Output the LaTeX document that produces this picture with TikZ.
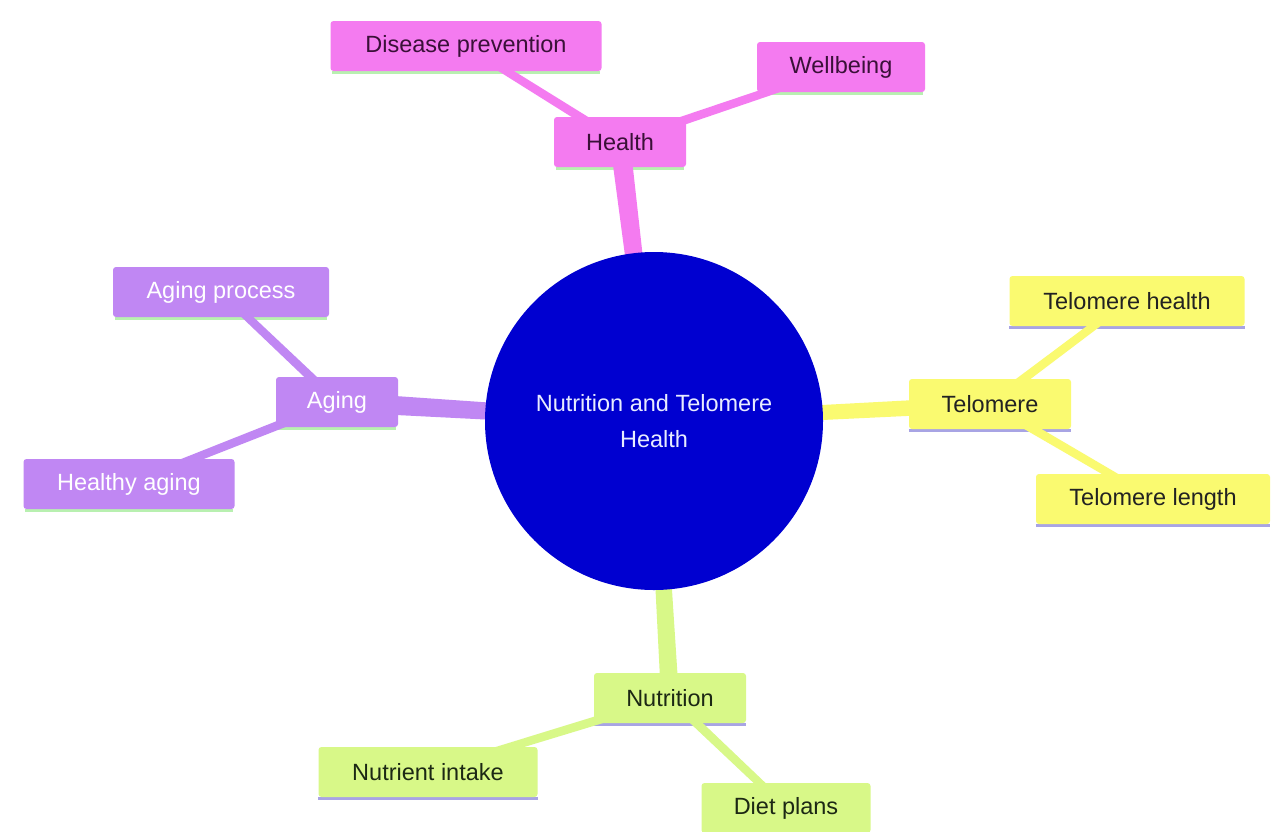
\documentclass[tikz,border=0pt]{standalone}
\usepackage{fontspec}
\setmainfont{Liberation Sans}
\usetikzlibrary{calc,backgrounds}
\definecolor{pinkc}{HTML}{F47BF0}
\definecolor{purpc}{HTML}{C087F3}
\definecolor{yelc}{HTML}{FAFA70}
\definecolor{grnc}{HTML}{D8F888}
\definecolor{bluec}{HTML}{0000D0}
\definecolor{ulg}{HTML}{B8F0B0}
\definecolor{ulp}{HTML}{A8A4E4}
\definecolor{pinktxt}{HTML}{3A1038}
\definecolor{darktxt}{HTML}{222222}
\definecolor{grntxt}{HTML}{1C2814}
\definecolor{hubtxt}{HTML}{E8ECFF}
\newcommand{\mmlink}[5]{%
  \fill[#1] ($(#2.center)!#4!90:(#3.center)$) -- ($(#3.center)!#5!-90:(#2.center)$)
   -- ($(#3.center)!#5!90:(#2.center)$) -- ($(#2.center)!#4!-90:(#3.center)$) -- cycle;}
\tikzset{
  box/.style={rectangle, rounded corners=3pt, inner sep=0pt, minimum height=50pt,
    font=\fontsize{23.5}{28}\selectfont},
  pinkbox/.style={box, fill=pinkc, text=pinktxt},
  purpbox/.style={box, fill=purpc, text=white},
  yelbox/.style={box, fill=yelc, text=darktxt},
  grnbox/.style={box, fill=grnc, text=grntxt},
  hub/.style={circle, fill=bluec, minimum size=338pt, inner sep=0pt, text=hubtxt,
    align=center, font=\fontsize{23.5}{36}\selectfont},
}
\begin{document}
\begin{tikzpicture}[x=1pt,y=-1pt]
\useasboundingbox (0,0) rectangle (1271,831);
\node[hub] (c) at (654,421) {Nutrition and Telomere\\Health};
% Health
\node[pinkbox, minimum width=132pt] (h) at (620,142) {Health};
\node[pinkbox, minimum width=271pt] (dp) at (466,46) {Disease prevention};
\node[pinkbox, minimum width=168pt] (wb) at (841,67) {Wellbeing};
% Telomere
\node[yelbox, minimum width=162pt] (t) at (990,404) {Telomere};
\node[yelbox, minimum width=235pt] (th) at (1127,301) {Telomere health};
\node[yelbox, minimum width=234pt] (tl) at (1153,499) {Telomere length};
% Aging
\node[purpbox, minimum width=122pt] (a) at (337,402) {Aging};
\node[purpbox, minimum width=216pt] (ap) at (221,292) {Aging process};
\node[purpbox, minimum width=211pt] (ha) at (129,484) {Healthy aging};
% Nutrition
\node[grnbox, minimum width=152pt] (n) at (670,698) {Nutrition};
\node[grnbox, minimum width=219pt] (ni) at (428,772) {Nutrient intake};
\node[grnbox, minimum width=169pt] (d) at (786,808) {Diet plans};
\begin{scope}[on background layer]
  \fill[white] (0,0) rectangle (1271,831);
  % underlines
  \foreach \nd in {h,dp,wb,a,ap,ha}{
    \draw[ulg, line width=3pt] ($(\nd.south west)+(2,1)$) -- ($(\nd.south east)+(-2,1)$);}
  \foreach \nd in {t,th,tl,n,ni,d}{
    \draw[ulp, line width=3pt] ($(\nd.south west)+(0,1.5)$) -- ($(\nd.south east)+(0,1.5)$);}
  % main links
  \mmlink{pinkc}{h}{c}{10pt}{7pt}
  \mmlink{yelc}{t}{c}{8pt}{7pt}
  \mmlink{purpc}{a}{c}{10pt}{7pt}
  \mmlink{grnc}{n}{c}{9pt}{7pt}
  % sub links
  \mmlink{pinkc}{h}{dp}{4.5pt}{4pt}
  \mmlink{pinkc}{h}{wb}{4.5pt}{4pt}
  \mmlink{yelc}{t}{th}{4.5pt}{4pt}
  \mmlink{yelc}{t}{tl}{4.5pt}{4pt}
  \mmlink{purpc}{a}{ap}{4.5pt}{4pt}
  \mmlink{purpc}{a}{ha}{4.5pt}{4pt}
  \mmlink{grnc}{n}{ni}{4.5pt}{4pt}
  \mmlink{grnc}{n}{d}{4.5pt}{4pt}
\end{scope}
\end{tikzpicture}
\end{document}
